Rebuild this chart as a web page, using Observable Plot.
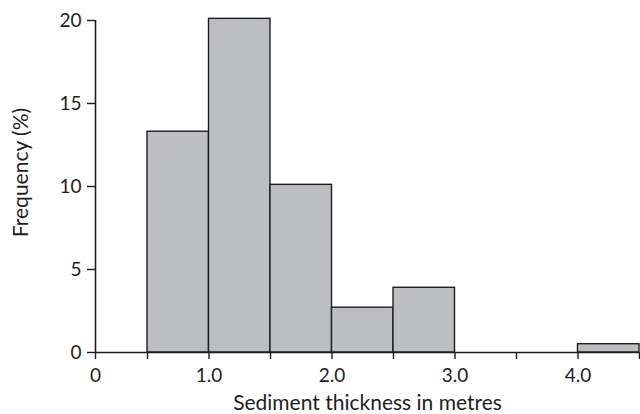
<!DOCTYPE html>
<html>
<head>
<meta charset="utf-8">
<script src="https://cdn.jsdelivr.net/npm/d3@7"></script>
<script src="https://cdn.jsdelivr.net/npm/@observablehq/plot@0.6"></script>
<style>
  html, body { margin: 0; padding: 0; background: #fff; }
  #chart svg { display: block; }
  #chart g[aria-label$="axis label"] text { font-size: 21px; }
</style>
</head>
<body>
<div id="chart"></div>
<script>
// Histogram of sediment thickness, 0.5 m classes
const binStart = [0.5, 1.0, 1.5, 2.0, 2.5, 3.0, 3.5, 4.0];
const binEnd   = [1.0, 1.5, 2.0, 2.5, 3.0, 3.5, 4.0, 4.5];
const frequency = [13.3, 20.1, 10.1, 2.7, 3.9, 0, 0, 0.5];

const xTicks = [0, 0.5, 1.0, 1.5, 2.0, 2.5, 3.0, 3.5, 4.0, 4.5];
const xTickLabels = ["0", "", "1.0", "", "2.0", "", "3.0", "", "4.0", ""];
const yTicks = [0, 5, 10, 15, 20];

const bins = binStart.map((x1, i) => ({x1, x2: binEnd[i], y: frequency[i]}));

const ink = "#1e1e1e";

const chart = Plot.plot({
  width: 640,
  height: 414,
  marginLeft: 95,
  marginRight: 1,
  marginTop: 20,
  marginBottom: 62,
  style: {fontFamily: "Lato, 'Open Sans', sans-serif", fontSize: "19px", color: ink, background: "#fff"},
  // broken axis: the first half metre is compressed
  x: {type: "linear", domain: [0, 0.5, 4.5], range: [95, 147, 639]},
  y: {domain: [0, 20]},
  marks: [
    Plot.rectY(bins, {x1: "x1", x2: "x2", y: "y", fill: "#bdbec2", stroke: ink, strokeWidth: 1.4}),
    Plot.ruleY([0], {x1: 0, x2: 4.5, stroke: ink, strokeWidth: 1.6}),
    Plot.ruleX([0], {y1: 0, y2: 20, stroke: ink, strokeWidth: 1.6}),
    Plot.axisX({
      ticks: xTicks,
      tickFormat: (d) => xTickLabels[xTicks.indexOf(d)],
      tickSize: 7,
      tickPadding: 9,
      stroke: ink,
      strokeWidth: 1.4,
      fontSize: 19,
      label: "Sediment thickness in metres",
      labelAnchor: "center",
      labelArrow: "none",
      labelOffset: 57
    }),
    Plot.axisY({
      ticks: yTicks,
      tickSize: 8,
      tickPadding: 6,
      stroke: ink,
      strokeWidth: 1.4,
      fontSize: 19,
      label: null
    }),
    // y-axis title, set a little above the frame's middle
    Plot.text(["Frequency (%)"], {
      frameAnchor: "left",
      textAnchor: "middle",
      lineAnchor: "middle",
      rotate: -90,
      dx: -74,
      dy: -14,
      fontSize: 21,
      fill: ink
    })
  ]
});

document.getElementById("chart").appendChild(chart);
</script>
</body>
</html>
